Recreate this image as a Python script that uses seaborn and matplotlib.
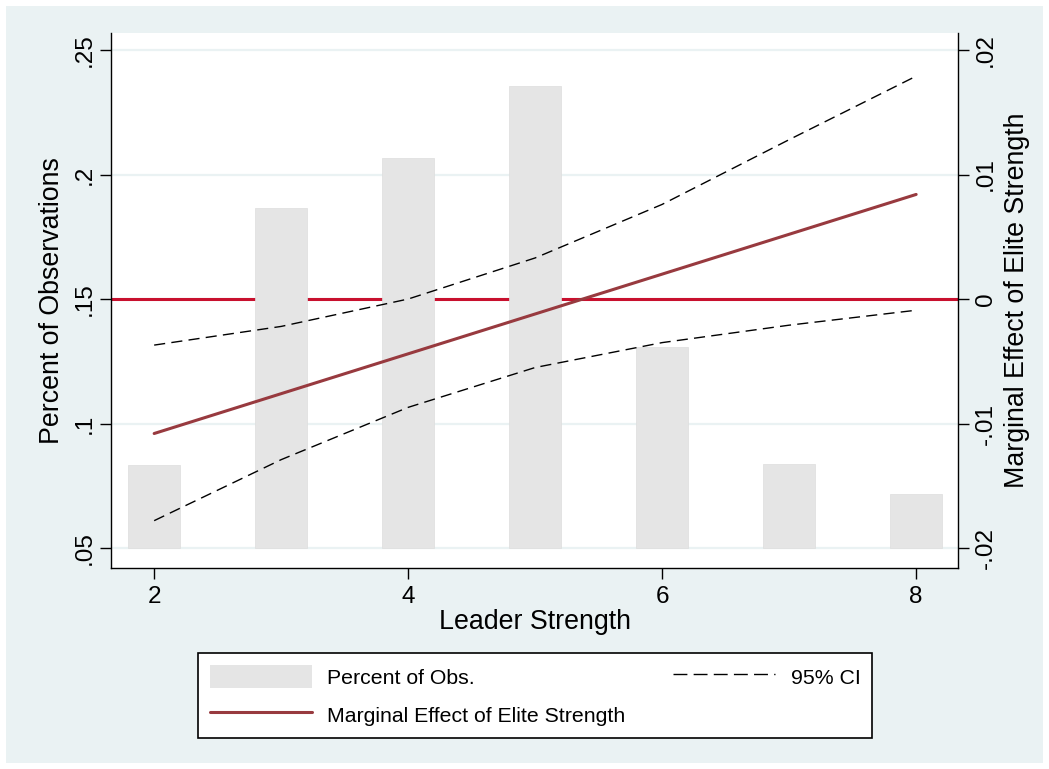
import numpy as np
import pandas as pd
import matplotlib.pyplot as plt
from matplotlib.patches import Rectangle
from matplotlib.lines import Line2D
import seaborn as sns

sns.set_style("white")
plt.rcParams['font.family'] = ['Liberation Sans', 'DejaVu Sans']
plt.rcParams['text.color'] = 'black'
plt.rcParams['axes.labelcolor'] = 'black'
plt.rcParams['xtick.color'] = 'black'
plt.rcParams['ytick.color'] = 'black'

# data
leader_strength = [2, 3, 4, 5, 6, 7, 8]
pct_obs = [0.0833, 0.1865, 0.2066, 0.2355, 0.1307, 0.0837, 0.0717]
marginal_effect = [-0.0108, -0.0076, -0.0044, -0.0012, 0.0020, 0.0052, 0.0084]
ci_upper = [-0.0037, -0.0022, 0.0000, 0.0033, 0.0076, 0.0128, 0.0179]
ci_lower = [-0.0178, -0.0129, -0.0087, -0.0055, -0.0035, -0.0021, -0.0009]

left_ticks = [0.05, 0.10, 0.15, 0.20, 0.25]
left_labels = ['.05', '.1', '.15', '.2', '.25']
right_ticks = [-0.02, -0.01, 0.0, 0.01, 0.02]
right_labels = ['-.02', '-.01', '0', '.01', '.02']
x_ticks = [2, 4, 6, 8]
bar_base = 0.05

df = pd.DataFrame({'x': leader_strength, 'pct': pct_obs, 'me': marginal_effect,
                   'hi': ci_upper, 'lo': ci_lower})

bg = '#EAF2F3'
bar_col = '#E5E5E5'
me_col = '#983A3F'
zero_col = '#C8102E'

fig = plt.figure(figsize=(10.49, 7.69), dpi=100)
fig.patch.set_facecolor('white')
fig.patches.append(Rectangle((0.006, 0.008), 0.988, 0.984, transform=fig.transFigure,
                             facecolor=bg, edgecolor='none', zorder=-10))

ax = fig.add_axes([0.1058, 0.2614, 0.8075, 0.6956])
ax.set_facecolor('white')
ax2 = ax.twinx()

# limits: right axis is a linear map of the left one
ax.set_xlim(1.66, 8.33)
ax.set_ylim(0.042, 0.2568)
lo_l, hi_l = ax.get_ylim()
ax2.set_ylim((lo_l - 0.15) / 5, (hi_l - 0.15) / 5)

# grid
for t in left_ticks:
    ax.axhline(t, color=bg, lw=1.6, zorder=0)

# reference line at 0 on the right axis, drawn under the bars
zero_left = ax.transData.inverted().transform(ax2.transData.transform((0, 0)))[1]
ax.axhline(zero_left, color=zero_col, lw=2.2, zorder=1)

ax.bar(df['x'], df['pct'] - bar_base, bottom=bar_base, width=0.41,
       color=bar_col, edgecolor='#DDDDDD', linewidth=0.5, zorder=2)

sns.lineplot(data=df, x='x', y='hi', ax=ax2, color='black', lw=1.0, dashes=False)
sns.lineplot(data=df, x='x', y='lo', ax=ax2, color='black', lw=1.0, dashes=False)
for ln in ax2.lines:
    ln.set_dashes((8, 4.5))
sns.lineplot(data=df, x='x', y='me', ax=ax2, color=me_col, lw=2.2)

# axes styling
for a in (ax, ax2):
    a.spines['top'].set_visible(False)
    for s in ('left', 'right', 'bottom'):
        a.spines[s].set_color('black')
        a.spines[s].set_linewidth(1.0)
ax.spines['right'].set_visible(False)
ax2.spines['left'].set_visible(False)
ax2.spines['bottom'].set_visible(False)

ax.set_xticks(x_ticks)
ax.set_xticklabels([str(v) for v in x_ticks])
ax.set_yticks(left_ticks)
ax.set_yticklabels(left_labels, rotation=90, va='center')
ax2.set_yticks(right_ticks)
ax2.set_yticklabels(right_labels, rotation=90, va='center')
ax.tick_params(axis='x', direction='out', length=8, width=1, labelsize=17.5,
               pad=5, bottom=True)
ax.tick_params(axis='y', direction='out', length=8, width=1, labelsize=17.5,
               pad=3, left=True)
ax2.tick_params(axis='y', direction='out', length=8, width=1, labelsize=17.5,
                pad=4, right=True)

ax.set_xlabel('Leader Strength', fontsize=19.3, labelpad=1)
ax.set_ylabel('Percent of Observations', fontsize=19.3, labelpad=6)
ax2.set_ylabel('Marginal Effect of Elite Strength', fontsize=19.3, labelpad=5,
               rotation=90)
ax2.set_xlabel('')

# legend
handles = [Rectangle((0, 0), 1, 1, facecolor=bar_col, edgecolor='none'),
           Line2D([], [], color=me_col, lw=2.2),
           Line2D([], [], color='black', lw=1.0, dashes=(10, 4.5))]
labels = ['Percent of Obs.', 'Marginal Effect of Elite Strength', '95% CI']
leg = fig.legend(handles, labels, ncol=2, loc='center',
                 bbox_to_anchor=(0.1888, 0.039, 0.6425, 0.1131), mode='expand',
                 fontsize=15.3, frameon=True, fancybox=False, edgecolor='black',
                 framealpha=1, handlelength=4.8, handleheight=1.3,
                 labelspacing=0.7, borderpad=0.55, borderaxespad=0,
                 handletextpad=0.72)
leg.get_frame().set_linewidth(1.2)

fig.savefig('out.png', dpi=100, facecolor=fig.get_facecolor())
